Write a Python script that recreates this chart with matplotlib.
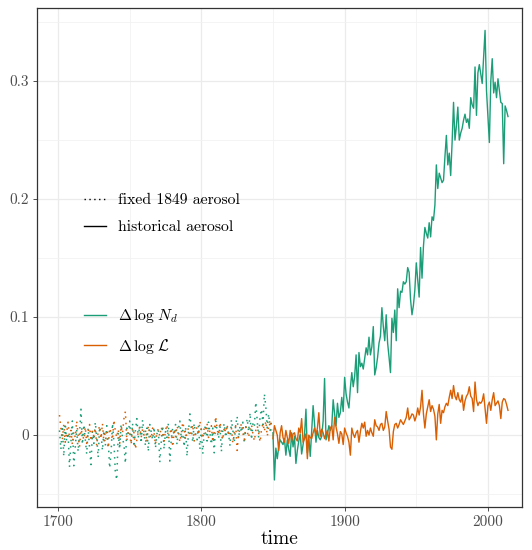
import numpy as np
import matplotlib
matplotlib.use("Agg")
import matplotlib.pyplot as plt
from matplotlib.lines import Line2D
from matplotlib.ticker import MultipleLocator

plt.rcParams['font.family'] = ['cmr10', 'DejaVu Serif']
plt.rcParams['mathtext.fontset'] = 'cm'
plt.rcParams['axes.formatter.use_mathtext'] = True

# years
years_fixed = np.arange(1701, 1850)
years_hist = np.arange(1850, 2015)

# fixed 1849 aerosol run, 1701-1849
nd_fixed = [
    0.004, -0.012, 0.008, -0.018, 0.010, -0.005, 0.002, -0.027, -0.006, 0.012,
    -0.026, -0.010, 0.005, -0.014, 0.001, 0.022, -0.008, 0.009, -0.004, -0.016,
    0.006, -0.011, -0.025, 0.003, -0.007, 0.011, -0.002, -0.019, 0.007, 0.001,
    -0.013, 0.004, -0.009, 0.008, -0.004, -0.028, -0.015, 0.010, -0.006, -0.032,
    -0.038, 0.002, -0.012, 0.009, -0.003, -0.008, -0.024, 0.006, 0.001, 0.012,
    -0.005, 0.010, -0.010, 0.004, 0.014, -0.002, 0.008, -0.007, 0.013, 0.002,
    -0.009, 0.006, -0.014, 0.009, 0.003, -0.004, 0.007, -0.011, 0.001, 0.005,
    -0.023, -0.006, 0.008, -0.012, 0.003, -0.002, 0.010, -0.022, -0.004, 0.006,
    0.000, 0.009, -0.008, 0.005, 0.012, -0.003, 0.004, -0.010, 0.007, -0.018,
    0.002, 0.018, 0.006, -0.006, 0.010, 0.001, -0.004, 0.008, -0.012, 0.005,
    -0.016, 0.003, 0.009, -0.005, 0.011, 0.002, -0.008, 0.006, -0.015, 0.012,
    0.004, -0.003, 0.008, -0.014, 0.005, 0.010, -0.002, 0.007, 0.001, -0.009,
    0.013, 0.004, -0.006, 0.009, 0.016, -0.003, 0.008, 0.002, 0.011, -0.007,
    0.006, 0.014, 0.003, 0.019, -0.004, 0.010, 0.007, 0.028, 0.012, -0.002,
    0.016, 0.022, 0.009, 0.035, 0.024, 0.006, 0.018, 0.004, 0.012,
]
lwp_fixed = [
    0.017, 0.006, -0.004, 0.009, -0.006, 0.002, 0.011, -0.003, 0.004, -0.008,
    0.003, -0.002, 0.012, 0.000, -0.010, 0.005, 0.001, -0.004, 0.007, -0.007,
    0.002, 0.009, -0.005, 0.004, -0.001, 0.006, -0.009, 0.003, 0.008, -0.003,
    0.010, -0.006, 0.004, 0.001, -0.011, 0.006, 0.002, -0.004, 0.013, 0.003,
    -0.002, 0.005, -0.007, 0.008, 0.002, 0.014, 0.020, -0.005, 0.004, 0.001,
    -0.008, 0.006, 0.002, -0.012, -0.004, 0.003, 0.007, -0.002, 0.005, 0.000,
    0.004, -0.006, 0.008, 0.001, -0.003, 0.006, 0.002, -0.008, 0.003, 0.005,
    -0.001, 0.007, 0.002, -0.005, 0.004, 0.009, -0.003, 0.001, 0.006, -0.010,
    0.003, -0.002, 0.008, 0.004, -0.006, 0.001, 0.011, 0.005, -0.004, 0.002,
    0.006, -0.001, 0.003, 0.009, -0.005, 0.002, 0.007, 0.000, 0.012, 0.004,
    -0.003, 0.006, 0.001, 0.010, -0.002, 0.004, 0.008, -0.006, 0.003, 0.016,
    0.005, 0.000, 0.011, 0.003, -0.004, 0.007, 0.002, 0.009, -0.001, 0.004,
    0.006, -0.007, 0.003, 0.008, -0.013, 0.001, 0.005, 0.010, 0.002, -0.004,
    0.007, 0.003, -0.002, 0.006, 0.009, 0.001, -0.005, 0.004, 0.008, 0.002,
    -0.006, 0.005, 0.010, 0.003, 0.012, -0.001, 0.007, 0.013, 0.004,
]

# historical aerosol run, 1850-2014
nd_hist = [
    0.002, -0.038, -0.011, -0.020, -0.010, -0.004, -0.006, -0.008, -0.003, -0.017,
    -0.004, -0.012, -0.018, 0.002, -0.010, -0.001, -0.024, -0.013, -0.005, 0.001,
    -0.016, -0.008, 0.000, 0.022, -0.015, -0.002, -0.018, 0.004, 0.025, 0.010,
    -0.006, 0.004, -0.002, -0.004, -0.001, 0.012, 0.048, -0.004, 0.001, 0.008,
    0.004, 0.007, 0.030, 0.018, 0.008, 0.027, 0.015, 0.019, 0.032, 0.020,
    0.049, 0.035, 0.028, 0.023, 0.040, 0.053, 0.041, 0.050, 0.068, 0.036,
    0.070, 0.058, 0.061, 0.056, 0.065, 0.074, 0.068, 0.083, 0.068, 0.075,
    0.092, 0.051, 0.057, 0.066, 0.078, 0.084, 0.108, 0.092, 0.080, 0.102,
    0.078, 0.066, 0.053, 0.099, 0.087, 0.106, 0.080, 0.124, 0.108, 0.122,
    0.121, 0.130, 0.128, 0.130, 0.142, 0.138, 0.115, 0.102, 0.110, 0.123,
    0.146, 0.131, 0.117, 0.159, 0.133, 0.160, 0.176, 0.171, 0.167, 0.180,
    0.168, 0.185, 0.182, 0.195, 0.229, 0.209, 0.222, 0.218, 0.214, 0.216,
    0.236, 0.254, 0.229, 0.239, 0.220, 0.248, 0.282, 0.250, 0.262, 0.278,
    0.250, 0.256, 0.260, 0.267, 0.272, 0.265, 0.268, 0.260, 0.286, 0.280,
    0.277, 0.312, 0.271, 0.307, 0.314, 0.306, 0.298, 0.320, 0.343, 0.292,
    0.270, 0.248, 0.300, 0.319, 0.290, 0.299, 0.286, 0.302, 0.292, 0.282,
    0.281, 0.230, 0.279, 0.275, 0.270,
]
lwp_hist = [
    -0.003, 0.008, 0.004, 0.000, -0.013, 0.002, 0.008, -0.002, -0.006, 0.004,
    -0.002, -0.007, 0.004, -0.005, 0.001, 0.002, -0.003, -0.005, 0.006, 0.002,
    0.014, -0.006, -0.003, 0.001, -0.020, 0.000, -0.002, -0.003, 0.002, 0.006,
    0.000, 0.006, 0.019, -0.001, 0.005, 0.002, -0.003, 0.001, 0.004, -0.005,
    0.006, 0.008, -0.004, 0.015, 0.007, 0.001, -0.007, 0.003, 0.001, -0.008,
    0.006, 0.002, -0.001, -0.006, -0.017, 0.006, 0.001, -0.002, 0.002, 0.004,
    -0.006, 0.003, 0.010, 0.006, 0.011, -0.001, 0.004, 0.000, 0.006, 0.002,
    -0.001, 0.013, 0.008, 0.007, 0.004, 0.009, 0.010, 0.004, 0.007, 0.020,
    0.012, 0.005, -0.010, -0.012, 0.003, 0.009, 0.010, 0.006, 0.009, 0.013,
    0.011, 0.009, 0.012, 0.015, 0.023, 0.013, 0.015, 0.018, 0.017, 0.012,
    0.016, 0.023, 0.017, 0.024, 0.038, 0.018, 0.006, 0.018, 0.024, 0.030,
    0.020, 0.025, 0.022, 0.016, -0.004, 0.018, 0.026, 0.010, 0.021, 0.019,
    0.024, 0.027, 0.025, 0.032, 0.038, 0.031, 0.042, 0.033, 0.030, 0.036,
    0.030, 0.028, 0.034, 0.021, 0.029, 0.033, 0.035, 0.041, 0.033, 0.031,
    0.020, 0.045, 0.030, 0.025, 0.028, 0.027, 0.029, 0.035, 0.022, 0.010,
    0.025, 0.028, 0.021, 0.030, 0.036, 0.025, 0.027, 0.029, 0.025, 0.014,
    0.028, 0.031, 0.030, 0.026, 0.021,
]

c_nd = '#1b9e77'
c_lwp = '#d95f02'
dotted = (0, (1, 3.2))

fig = plt.figure(figsize=(5.32, 5.5), dpi=100)
ax = fig.add_axes([0.0695, 0.078, 0.9115, 0.9075])

ax.plot(years_fixed, nd_fixed, color=c_nd, lw=1.1, ls=dotted)
ax.plot(years_fixed, lwp_fixed, color=c_lwp, lw=1.1, ls=dotted)
ax.plot(years_hist, nd_hist, color=c_nd, lw=1.0)
ax.plot(years_hist, lwp_hist, color=c_lwp, lw=1.0)

ax.set_xlim(1685.3, 2023.7)
ax.set_ylim(-0.061, 0.362)
ax.xaxis.set_major_locator(MultipleLocator(100))
ax.xaxis.set_minor_locator(MultipleLocator(50))
ax.yaxis.set_major_locator(MultipleLocator(0.1))
ax.yaxis.set_minor_locator(MultipleLocator(0.05))
ax.set_yticks([0, 0.1, 0.2, 0.3])
ax.set_yticklabels(['0', '0.1', '0.2', '0.3'])
ax.set_xticks([1700, 1800, 1900, 2000])
ax.set_xticklabels(['1700', '1800', '1900', '2000'])

ax.grid(which='major', color='#ebebeb', lw=0.9)
ax.grid(which='minor', color='#f2f2f2', lw=0.6)
ax.set_axisbelow(True)
ax.tick_params(which='major', length=3, width=0.6, color='#333333',
               labelsize=11, labelcolor='#4d4d4d', pad=3)
ax.tick_params(which='minor', length=0)
for sp in ax.spines.values():
    sp.set_color('#333333')
    sp.set_linewidth(0.9)

ax.set_xlabel('time', fontsize=14, labelpad=1)

# legends: line type and variable colour
lt_handles = [Line2D([], [], color='black', lw=1.0, ls=(0, (1, 2.5))),
              Line2D([], [], color='black', lw=1.0)]
leg1 = ax.legend(lt_handles, ['fixed 1849 aerosol', 'historical aerosol'],
                 loc='center left', bbox_to_anchor=(0.097, 0.588),
                 frameon=False, fontsize=11.3, handlelength=1.4,
                 handletextpad=0.75, labelspacing=0.82, borderpad=0,
                 borderaxespad=0)
ax.add_artist(leg1)

col_handles = [Line2D([], [], color=c_nd, lw=1.0),
               Line2D([], [], color=c_lwp, lw=1.0)]
ax.legend(col_handles, [r'$\Delta\,\log\,N_d$', r'$\Delta\,\log\,\mathcal{L}$'],
          loc='center left', bbox_to_anchor=(0.097, 0.352),
          frameon=False, fontsize=11.3, handlelength=1.4,
          handletextpad=0.75, labelspacing=0.72, borderpad=0,
          borderaxespad=0)

fig.savefig('out.png', dpi=100)
